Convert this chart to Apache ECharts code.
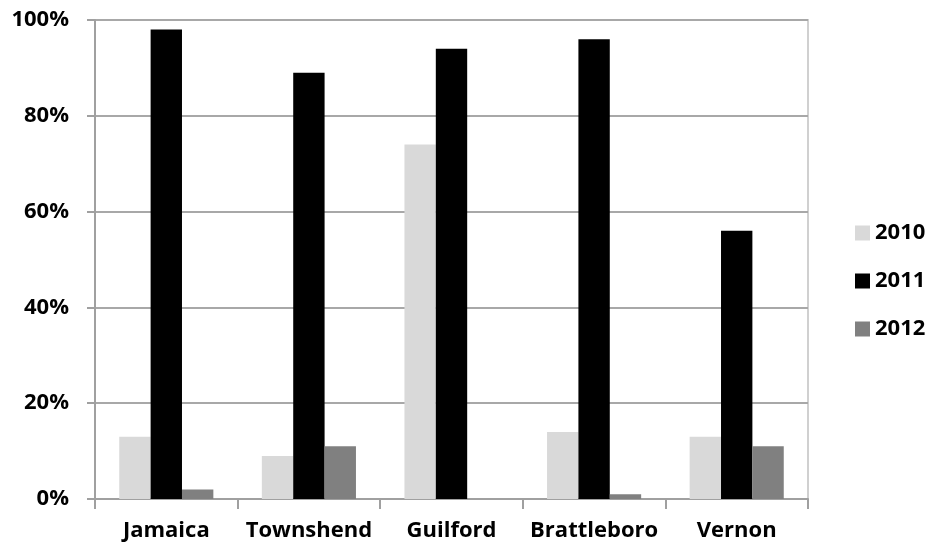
<!DOCTYPE html>
<html>
<head>
<meta charset="utf-8">
<script src="https://cdn.jsdelivr.net/npm/echarts@6/dist/echarts.min.js"></script>
<style>
  html, body { margin: 0; padding: 0; background: #fff; }
  #chart { width: 928px; height: 546px; }
</style>
</head>
<body>
<div id="chart"></div>
<script>
// Town names along the x axis
const towns = ['Jamaica', 'Townshend', 'Guilford', 'Brattleboro', 'Vernon'];
// Percent values per year
const years = ['2010', '2011', '2012'];
const values2010 = [13, 9, 74, 14, 13];
const values2011 = [98, 89, 94, 96, 56];
const values2012 = [2, 11, 0, 1, 11];
const yearColors = ['#d9d9d9', '#000000', '#808080'];

const font = '"Open Sans", Lato, sans-serif';
const chart = echarts.init(document.getElementById('chart'));

const seriesData = [values2010, values2011, values2012];
const labelStyle = { fontFamily: font, fontWeight: 'bold', fontSize: 22, color: '#000' };

chart.setOption({
  animation: false,
  textStyle: { fontFamily: font },
  grid: {
    left: 95, right: 120, top: 20, bottom: 47,
    show: true, borderColor: '#d0d0d0', borderWidth: 2
  },
  legend: {
    orient: 'vertical',
    left: 850,
    top: 217,
    itemWidth: 15,
    itemHeight: 15,
    itemGap: 26,
    icon: 'rect',
    data: years,
    textStyle: labelStyle
  },
  xAxis: {
    type: 'category',
    data: towns,
    axisLine: { lineStyle: { color: '#a0a0a0', width: 2 } },
    axisTick: { show: true, length: 10, lineStyle: { color: '#a0a0a0', width: 2 } },
    axisLabel: Object.assign({ margin: 21, interval: 0 }, labelStyle)
  },
  yAxis: {
    type: 'value',
    min: 0,
    max: 100,
    interval: 20,
    axisLine: { show: true, lineStyle: { color: '#a0a0a0', width: 2 } },
    axisTick: { show: true, length: 8, lineStyle: { color: '#a0a0a0', width: 2 } },
    splitLine: { lineStyle: { color: '#a8a8a8', width: 2 } },
    axisLabel: Object.assign({ margin: 26, formatter: '{value}%' }, labelStyle)
  },
  series: years.map((y, i) => ({
    name: y,
    type: 'bar',
    data: seriesData[i],
    barGap: '0%',
    barCategoryGap: '34%',
    itemStyle: { color: yearColors[i] }
  }))
});
</script>
</body>
</html>
